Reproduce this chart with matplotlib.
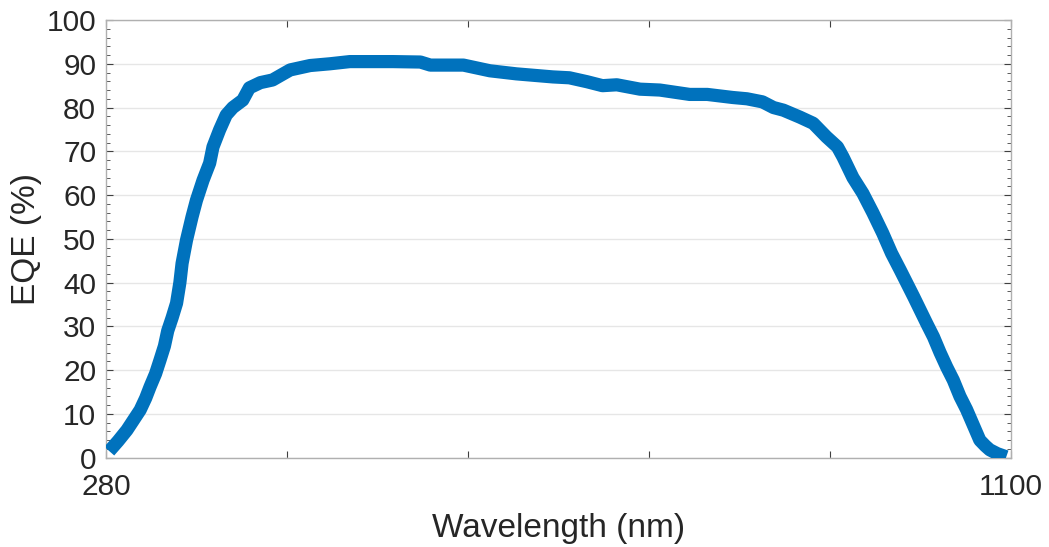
import matplotlib.pyplot as plt
import numpy as np
from matplotlib.ticker import MultipleLocator

plt.rcParams['font.family'] = ['Liberation Sans', 'DejaVu Sans']

# EQE spectrum
wavelength = [283, 291, 299, 305, 311, 316, 320, 325, 329, 333, 336, 340, 344,
              347, 349, 353, 358, 362, 368, 374, 377, 383, 389, 395, 404, 410,
              420, 431, 440, 447, 465, 483, 501, 540, 565, 574, 604, 628, 652,
              685, 700, 716, 730, 743, 764, 782, 809, 825, 848, 861, 875, 885,
              894, 909, 921, 933, 943, 948, 957, 966, 975, 984, 992, 1000, 1006,
              1012, 1018, 1024, 1030, 1036, 1042, 1048, 1054, 1060, 1066, 1072,
              1077, 1081, 1088, 1096]
eqe = [1.5, 3.8, 6.3, 8.6, 10.9, 13.6, 16.2, 19.2, 22.3, 25.5, 29.0, 32.0, 35.3,
       40.0, 44.4, 49.7, 55.0, 58.8, 63.4, 67.3, 71.0, 74.9, 78.3, 80.0, 81.7,
       84.5, 85.7, 86.3, 87.6, 88.6, 89.6, 90.0, 90.5, 90.5, 90.4, 89.7, 89.7,
       88.4, 87.7, 87.0, 86.8, 85.9, 85.0, 85.2, 84.2, 84.0, 83.0, 83.0, 82.3,
       82.0, 81.3, 80.0, 79.4, 77.8, 76.4, 73.3, 71.0, 68.7, 64.0, 60.4, 56.0,
       51.3, 46.7, 42.8, 39.8, 36.8, 33.7, 30.6, 27.6, 24.0, 20.7, 17.7, 14.0,
       11.0, 7.5, 4.0, 2.7, 1.8, 0.9, 0.2]

x_ticks = [280, 444, 608, 772, 936, 1100]
x_tick_labels = ['280', '', '', '', '', '1100']

fig = plt.figure(figsize=(10.49, 5.47), dpi=100)
ax = fig.add_axes([0.101, 0.1633, 0.8625, 0.8001])

ax.plot(wavelength, eqe, color='#0072BD', linewidth=9.5, solid_capstyle='butt',
        solid_joinstyle='round', zorder=3)

ax.set_xlim(280, 1100)
ax.set_ylim(0, 100)
ax.set_xticks(x_ticks)
ax.set_xticklabels(x_tick_labels)
ax.set_yticks(np.arange(0, 101, 10))
ax.yaxis.set_minor_locator(MultipleLocator(2))

ax.grid(axis='y', which='major', color='#e6e6e6', linewidth=1.0, zorder=0)

for s in ax.spines.values():
    s.set_color('#b0b0b0')
    s.set_linewidth(1.0)

ax.tick_params(axis='both', which='both', direction='in', top=True, right=True,
               colors='#404040', labelcolor='#262626', labelsize=21.5)
ax.tick_params(axis='both', which='major', length=5, width=0.8)
ax.tick_params(axis='y', which='minor', length=3, width=0.6)
ax.tick_params(axis='x', pad=11)
ax.tick_params(axis='y', pad=7)

ax.set_xlabel('Wavelength (nm)', fontsize=24, color='#262626', labelpad=9)
ax.set_ylabel('EQE (%)', fontsize=24, color='#262626', labelpad=3)

fig.savefig('out.png', dpi=100)
